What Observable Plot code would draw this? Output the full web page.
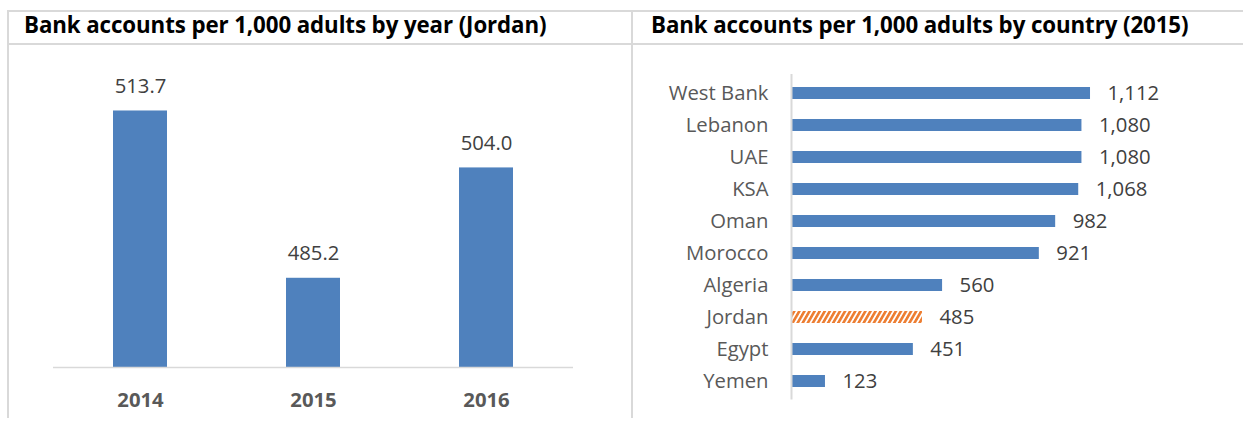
<!DOCTYPE html>
<html><head><meta charset="utf-8">
<script src="https://cdn.jsdelivr.net/npm/d3@7"></script>
<script src="https://cdn.jsdelivr.net/npm/@observablehq/plot@0.6"></script>
<style>
html,body{margin:0;padding:0;background:#fff;}
#wrap{position:relative;width:1243px;height:421px;overflow:hidden;font-family:"Open Sans",sans-serif;background:#fff;}
.line{position:absolute;background:#d9d9d9;z-index:2;}
.title{position:absolute;top:14px;font-weight:bold;font-size:22.3px;line-height:22px;color:#000;white-space:nowrap;letter-spacing:-0.1px;}
.panel{position:absolute;top:44px;}
.panel svg{display:block;}
</style></head><body>
<div id="wrap">
  <div class="title" style="left:24px">Bank accounts per 1,000 adults by year (Jordan)</div>
  <div class="title" style="left:651px">Bank accounts per 1,000 adults by country (2015)</div>
  <div class="panel" id="leftPanel" style="left:0px"></div>
  <div class="panel" id="rightPanel" style="left:632px"></div>
  <div class="line" style="left:8px;top:10px;width:1235px;height:2px"></div>
  <div class="line" style="left:8px;top:43px;width:1235px;height:2px"></div>
  <div class="line" style="left:7px;top:10px;width:2px;height:408px"></div>
  <div class="line" style="left:631px;top:10px;width:2px;height:408px"></div>
</div>
<script>
// Left chart: Jordan by year
const years = ["2014", "2015", "2016"];
const yearValues = [513.7, 485.2, 504.0];

// Right chart: countries in 2015
const countries = ["West Bank", "Lebanon", "UAE", "KSA", "Oman", "Morocco", "Algeria", "Jordan", "Egypt", "Yemen"];
const countryValues = [1112, 1080, 1080, 1068, 982, 921, 560, 485, 451, 123];
const highlightCountry = "Jordan";

const yearData = years.map((y, i) => ({year: y, value: yearValues[i]}));
const countryData = countries.map((c, i) => ({country: c, value: countryValues[i]}));

const BLUE = "#4F81BD";
const ORANGE = "#ED7D31";
const baseFont = {background: "transparent", fontFamily: "'Open Sans', sans-serif", fontSize: "20px", overflow: "visible"};

const left = Plot.plot({
  width: 632, height: 377,
  marginLeft: 53, marginRight: 59, marginTop: 29.5, marginBottom: 54,
  style: baseFont,
  x: {domain: years, paddingInner: 0.69, paddingOuter: 0.345},
  y: {domain: [470, 520], axis: null},
  marks: [
    Plot.barY(yearData, {x: "year", y1: 470, y2: "value", fill: BLUE}),
    Plot.ruleY([470], {stroke: "#d9d9d9", strokeWidth: 1.5}),
    Plot.text(yearData, {x: "year", y: "value", text: d => d.value.toFixed(1), lineAnchor: "bottom", dy: -18, fill: "#404040", fontSize: 20.3}),
    Plot.axisX({tickSize: 0, tickPadding: 25, fontSize: 20.3, fontWeight: "bold", color: "#595959", label: null})
  ]
});
left.querySelectorAll('g[aria-label="x-axis tick label"] text').forEach(t => t.setAttribute("font-weight", "bold"));
document.getElementById("leftPanel").appendChild(left);

const right = Plot.plot({
  width: 611, height: 377,
  marginLeft: 160, marginRight: 129.4, marginTop: 30, marginBottom: 21.6,
  style: baseFont,
  x: {domain: [0, 1200], axis: null},
  y: {domain: countries, paddingInner: 0.63, paddingOuter: 0.315},
  marks: [
    Plot.barX(countryData.filter(d => d.country !== highlightCountry), {y: "country", x: "value", fill: BLUE}),
    Plot.barX(countryData.filter(d => d.country === highlightCountry), {y: "country", x: "value", fill: "url(#hatch)"}),
    Plot.ruleX([0], {stroke: "#d9d9d9", strokeWidth: 2, dx: -1}),
    Plot.text(countryData, {y: "country", x: "value", text: d => d3.format(",")(d.value), textAnchor: "start", dx: 17, fill: "#404040", fontSize: 20.3}),
    Plot.axisY({tickSize: 0, tickPadding: 24, fontSize: 20.3, color: "#595959", label: null})
  ]
});
const defs = d3.select(right).insert("defs", ":first-child");
const pat = defs.append("pattern").attr("id", "hatch").attr("patternUnits", "userSpaceOnUse")
  .attr("width", 4.4).attr("height", 4.4).attr("patternTransform", "rotate(30)");
pat.append("rect").attr("width", 4.4).attr("height", 4.4).attr("fill", "#fff");
pat.append("rect").attr("width", 2.6).attr("height", 4.4).attr("fill", ORANGE);
document.getElementById("rightPanel").appendChild(right);
</script>
</body></html>
